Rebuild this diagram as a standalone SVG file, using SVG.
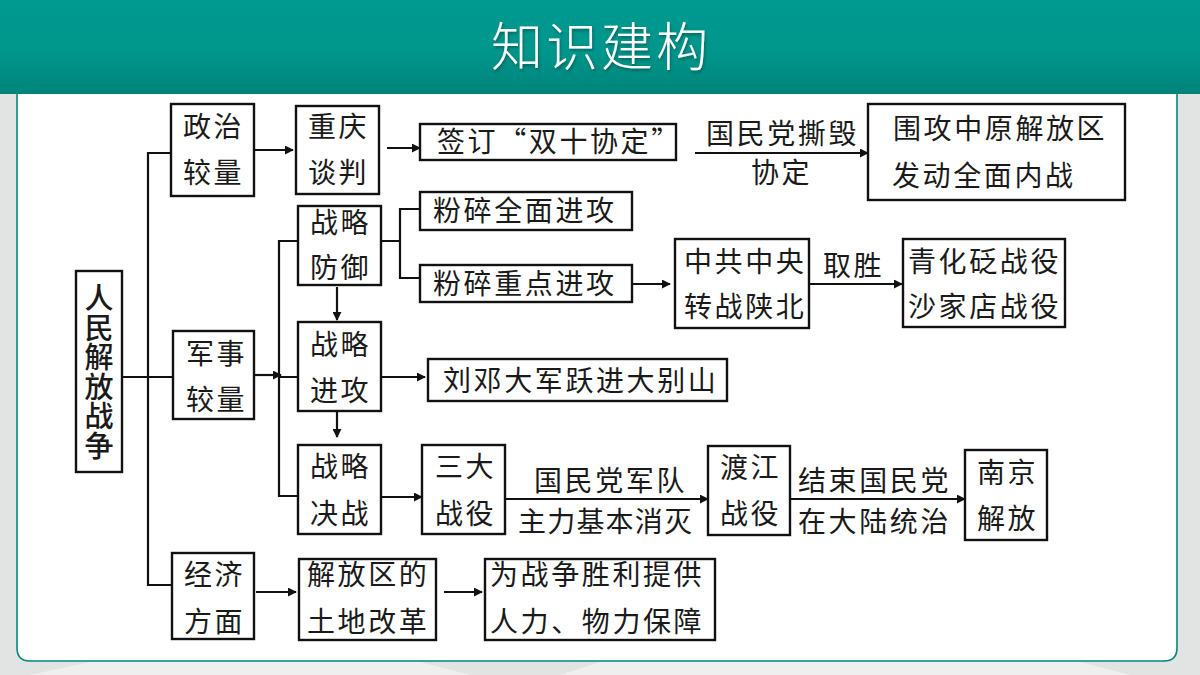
<svg xmlns="http://www.w3.org/2000/svg" width="1200" height="675" viewBox="0 0 1200 675">
<style>
text{font-family:"Noto Sans CJK SC","Noto Sans",sans-serif;fill:#1a1a1a;font-size:27px;font-weight:400}
.t{font-size:28px;letter-spacing:2.6px}
.b{fill:#fff;stroke:#111;stroke-width:2.4}
.c{fill:none;stroke:#111;stroke-width:2.2}
.a{fill:none;stroke:#111;stroke-width:2.2;marker-end:url(#m)}
</style>
<defs>
<marker id="m" viewBox="0 0 10 10" markerUnits="userSpaceOnUse" markerWidth="9" markerHeight="9" refX="9" refY="5" orient="auto"><path d="M0 0L10 5L0 10Z" fill="#111"/></marker>
<linearGradient id="h" x1="0" y1="0" x2="0" y2="1"><stop offset="0" stop-color="#009a90"/><stop offset="0.55" stop-color="#00968c"/><stop offset="1" stop-color="#00847a"/></linearGradient>
<filter id="s" x="-10%" y="-10%" width="120%" height="130%"><feDropShadow dx="1" dy="2" stdDeviation="1.5" flood-color="#00423c" flood-opacity="0.6"/></filter>
</defs>
<rect width="1200" height="675" fill="#e2e4e3"/>
<path d="M30 675L90 662H420L470 675ZM560 675L600 662H1080L1130 675Z" fill="#eeefee"/>
<path d="M17 90V648Q17 661 30 661H1164Q1177 661 1177 648V90Z" fill="#fff" stroke="#00897f" stroke-width="1.6"/>
<rect width="1200" height="94" fill="url(#h)"/>
<text x="601" y="66" text-anchor="middle" style="font-size:52px;fill:#fff;letter-spacing:3px;font-weight:300" filter="url(#s)">知识建构</text>
<g id="connectors">
<path class="c" d="M171 153H148V585H172M122 377H173"/>
<path class="a" d="M254 150H293"/>
<path class="a" d="M387 148H420"/>
<path class="a" d="M695 153H868"/>
<path class="a" d="M254 375H281"/>
<path class="c" d="M298 241H279V496H298M279 377H298"/>
<path class="c" d="M381 241H400M420 209H400V278H420"/>
<path class="a" d="M632 284H670"/>
<path class="a" d="M809 284H902"/>
<path class="a" d="M337 287V320"/>
<path class="a" d="M337 411V437"/>
<path class="a" d="M381 377H425"/>
<path class="a" d="M381 497H422"/>
<path class="a" d="M505 499H708"/>
<path class="a" d="M790 499H965"/>
<path class="a" d="M256 592H296"/>
<path class="a" d="M444 592H482"/>
</g>
<g id="n-root"><rect class="b" x="76" y="271" width="46" height="201"/><text x="99" y="372" text-anchor="middle" style="writing-mode:vertical-rl;font-size:29px;letter-spacing:0.5px;font-weight:500">人民解放战争</text></g>
<g id="n-zhengzhi"><rect class="b" x="171" y="104" width="83" height="92"/><text class="t" x="183" y="137">政治</text><text class="t" x="183" y="183">较量</text></g>
<g id="n-chongqing"><rect class="b" x="296" y="106" width="83" height="88"/><text class="t" x="308" y="137">重庆</text><text class="t" x="308" y="183">谈判</text></g>
<g id="n-qianding"><rect class="b" x="420" y="124" width="256" height="36"/><text class="t" x="437" y="152">签订“双十协定”</text></g>
<g id="l-1"><text class="t" x="706" y="144">国民党撕毁</text><text class="t" x="751" y="183">协定</text></g>
<g id="n-weigong"><rect class="b" x="868" y="104" width="257" height="96"/><text class="t" x="893" y="139">围攻中原解放区</text><text class="t" x="892" y="186">发动全面内战</text></g>
<g id="n-fangyu"><rect class="b" x="298" y="206" width="83" height="79"/><text class="t" x="310" y="233">战略</text><text class="t" x="310" y="278">防御</text></g>
<g id="n-quanmian"><rect class="b" x="420" y="192" width="212" height="38"/><text class="t" x="433" y="221">粉碎全面进攻</text></g>
<g id="n-zhongdian"><rect class="b" x="420" y="265" width="212" height="37"/><text class="t" x="433" y="294">粉碎重点进攻</text></g>
<g id="n-zhonggong"><rect class="b" x="675" y="239" width="134" height="89"/><text class="t" x="684" y="272">中共中央</text><text class="t" x="684" y="317">转战陕北</text></g>
<g id="l-2"><text class="t" x="823" y="276">取胜</text></g>
<g id="n-qinghua"><rect class="b" x="903" y="239" width="162" height="88"/><text class="t" x="908" y="272">青化砭战役</text><text class="t" x="908" y="317">沙家店战役</text></g>
<g id="n-junshi"><rect class="b" x="173" y="331" width="81" height="88"/><text class="t" x="186" y="364">军事</text><text class="t" x="186" y="410">较量</text></g>
<g id="n-jingong"><rect class="b" x="298" y="322" width="83" height="89"/><text class="t" x="310" y="355">战略</text><text class="t" x="310" y="401">进攻</text></g>
<g id="n-liudeng"><rect class="b" x="428" y="359" width="299" height="42"/><text class="t" x="443" y="391">刘邓大军跃进大别山</text></g>
<g id="n-juezhan"><rect class="b" x="298" y="445" width="83" height="89"/><text class="t" x="310" y="477">战略</text><text class="t" x="310" y="524">决战</text></g>
<g id="n-sanda"><rect class="b" x="422" y="445" width="83" height="89"/><text class="t" x="435" y="477">三大</text><text class="t" x="435" y="524">战役</text></g>
<g id="l-3"><text class="t" x="534" y="491">国民党军队</text><text class="t" x="518" y="532" style="letter-spacing:1.2px">主力基本消灭</text></g>
<g id="n-dujiang"><rect class="b" x="708" y="446" width="82" height="89"/><text class="t" x="720" y="478">渡江</text><text class="t" x="720" y="524">战役</text></g>
<g id="l-4"><text class="t" x="798" y="491">结束国民党</text><text class="t" x="798" y="532">在大陆统治</text></g>
<g id="n-nanjing"><rect class="b" x="965" y="450" width="82" height="90"/><text class="t" x="977" y="483">南京</text><text class="t" x="977" y="529">解放</text></g>
<g id="n-jingji"><rect class="b" x="172" y="553" width="82" height="86"/><text class="t" x="184" y="585">经济</text><text class="t" x="184" y="632">方面</text></g>
<g id="n-tudi"><rect class="b" x="299" y="559" width="137" height="81"/><text class="t" x="307" y="585">解放区的</text><text class="t" x="307" y="632">土地改革</text></g>
<g id="n-shengli"><rect class="b" x="485" y="559" width="230" height="81"/><text class="t" x="490" y="585">为战争胜利提供</text><text class="t" x="490" y="632">人力、物力保障</text></g>
</svg>
